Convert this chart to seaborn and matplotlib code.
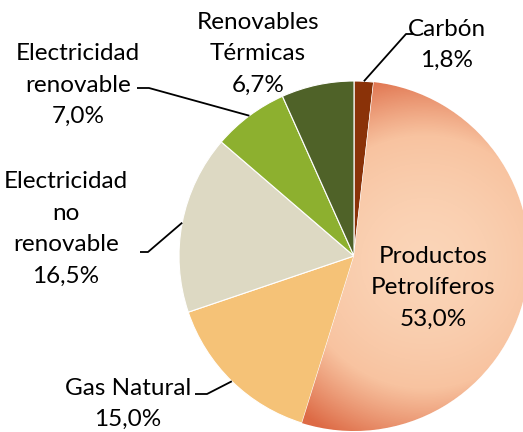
import numpy as np
import matplotlib.pyplot as plt
import seaborn as sns
from matplotlib.colors import LinearSegmentedColormap

# Data (clockwise from 12 o'clock)
categories = ['Carbón', 'Productos\nPetrolíferos', 'Gas Natural',
              'Electricidad\nno\nrenovable', 'Electricidad\nrenovable',
              'Renovables\nTérmicas']
shares     = [1.8, 53.0, 15.0, 16.5, 7.0, 6.7]
pct_labels = ['1,8%', '53,0%', '15,0%', '16,5%', '7,0%', '6,7%']
colors     = ['#8A3208', '#F2A27C', '#F5C277', '#DDD9C3', '#8DB02F', '#4F6228']

# Label layout in pixel coords (x, y from top)
label_pos = [(447, 45), (433, 288), (128, 404), (66, 229), (78, 85), (258, 54)]
# leader: (elbow_x, elbow_y, end_x) or None
leaders   = [(406, 34, 414), None, (207, 394, 195), (148, 252, 140),
             (149, 88, 137), None]

sns.set_theme(style='white')
plt.rcParams['font.family'] = ['Lato', 'DejaVu Sans']

W, H = 523, 432
fig = plt.figure(figsize=(W / 100, H / 100), dpi=100, facecolor='white')
ax = fig.add_axes([0, 0, 1, 1])
cx, cy, r = 354, 176, 175

wedges, _ = ax.pie(shares, colors=sns.color_palette(colors), startangle=90,
                   counterclock=False, center=(cx, cy), radius=r,
                   wedgeprops=dict(edgecolor='white', linewidth=0.8))

# gradient fill for the big slice
cmap = LinearSegmentedColormap.from_list('petro', ['#FBD5B8', '#F8C3A0', '#DD6A45'])
yy, xx = np.mgrid[0:H, 0:W] + 0.5
d = np.hypot(xx - 425, yy - (H - 262))
grad = np.clip(d / 195, 0, 1) ** 1.6
im = ax.imshow(grad, cmap=cmap, origin='lower', extent=(0, W, 0, H),
               zorder=wedges[1].get_zorder() + 0.1, interpolation='bilinear')
im.set_clip_path(wedges[1])

for i, (cat, pct) in enumerate(zip(categories, pct_labels)):
    x, y = label_pos[i]
    ax.text(x, H - y, f'{cat}\n{pct}', ha='center', va='center',
            fontsize=17.5, linespacing=1.62, color='black', zorder=5)
    if leaders[i] is not None:
        w = wedges[i]
        mid = np.deg2rad((w.theta1 + w.theta2) / 2)
        px, py = cx + r * np.cos(mid), cy + r * np.sin(mid)
        ex, ey, tx = leaders[i]
        ax.plot([px, ex, tx], [py, H - ey, H - ey], color='black', lw=1.3,
                zorder=4, solid_capstyle='butt')

ax.set_xlim(0, W)
ax.set_ylim(0, H)
ax.set_aspect('equal')
ax.axis('off')
fig.savefig('out.png', dpi=100, facecolor='white')
